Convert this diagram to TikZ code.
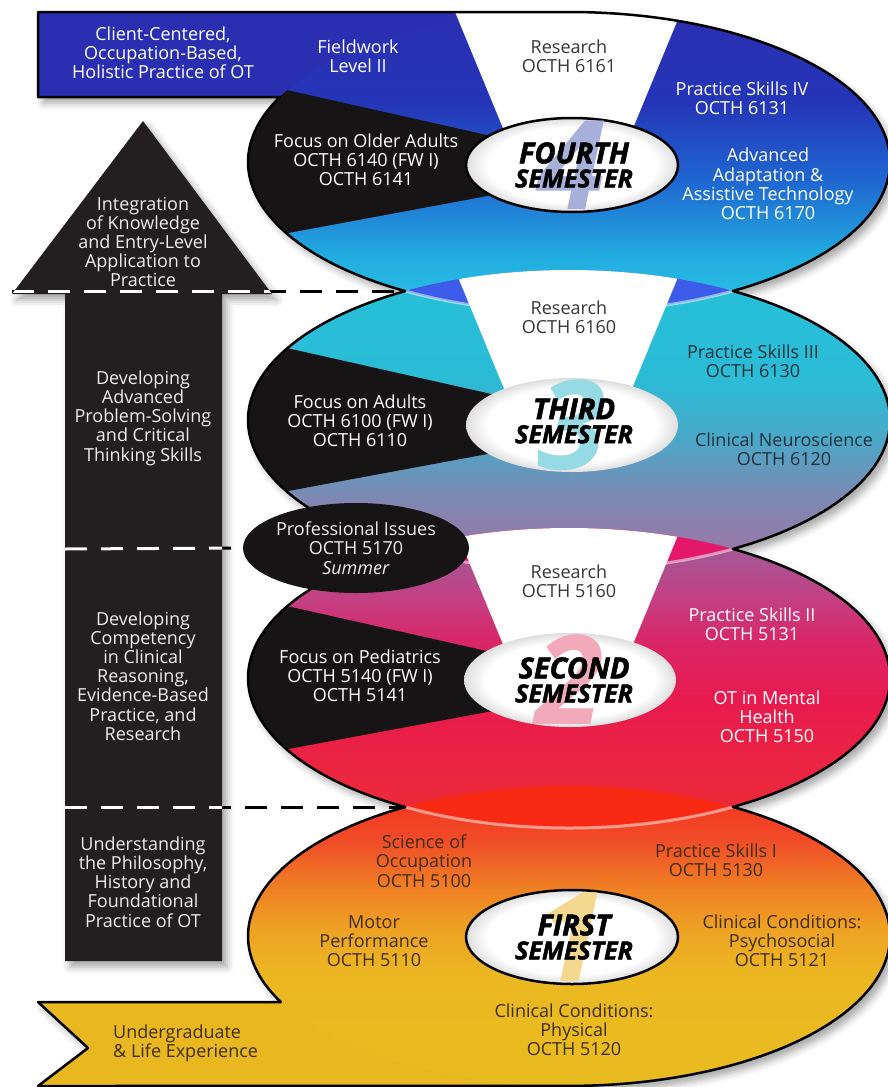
\documentclass[tikz,border=0pt]{standalone}
\usepackage{fontspec}
\setmainfont{Open Sans}
\usetikzlibrary{
    shapes.geometric,   % ellipse nodes for the hubs
    shadows.blur        % soft shadows under ribbon and arrow
}

% colours
\definecolor{bandblue}{HTML}{2A2FB2}
\definecolor{bandgold}{HTML}{E9B71F}
\definecolor{arrowgray}{HTML}{231F20}
\definecolor{pieblack}{HTML}{161415}
\definecolor{inkdark}{HTML}{363636}
\definecolor{inkslate}{HTML}{22313B}
\definecolor{inkbrown}{HTML}{3E2E0C}
\definecolor{lensblue}{HTML}{3C5BE8}
\definecolor{lensrose}{HTML}{E4186A}
\definecolor{lensred}{HTML}{F82A14}
\definecolor{digitfour}{HTML}{A6B0DA}
\definecolor{digitthree}{HTML}{96DAE4}
\definecolor{digittwo}{HTML}{F2AABA}
\definecolor{digitone}{HTML}{F4D890}

% semester shadings, the path covers 25bp..75bp
\pgfdeclareverticalshading{semfour}{100bp}{rgb(0bp)=(.173,.753,.894); rgb(25bp)=(.173,.753,.894);
    rgb(34bp)=(.133,.682,.878); rgb(47bp)=(.122,.4,.816); rgb(60bp)=(.145,.208,.722);
    rgb(75bp)=(.165,.184,.69); rgb(100bp)=(.165,.184,.69)}
\pgfdeclareverticalshading{semthree}{100bp}{rgb(0bp)=(.627,.439,.627); rgb(25bp)=(.627,.439,.627);
    rgb(29bp)=(.588,.478,.659); rgb(37bp)=(.49,.533,.698); rgb(47bp)=(.29,.659,.784);
    rgb(57bp)=(.169,.737,.839); rgb(75bp)=(.145,.749,.847); rgb(100bp)=(.145,.749,.847)}
\pgfdeclareverticalshading{semtwo}{100bp}{rgb(0bp)=(.933,.173,.22); rgb(25bp)=(.933,.173,.22);
    rgb(31bp)=(.925,.157,.235); rgb(46bp)=(.91,.102,.306); rgb(56bp)=(.851,.149,.4);
    rgb(63bp)=(.769,.247,.51); rgb(70bp)=(.663,.329,.58); rgb(75bp)=(.627,.353,.596);
    rgb(100bp)=(.627,.353,.596)}
\pgfdeclareverticalshading{semone}{100bp}{rgb(0bp)=(.91,.737,.125); rgb(25bp)=(.91,.737,.125);
    rgb(43bp)=(.922,.722,.133); rgb(51bp)=(.933,.639,.141); rgb(59bp)=(.941,.478,.141);
    rgb(66bp)=(.941,.298,.157); rgb(75bp)=(.957,.188,.125); rgb(100bp)=(.957,.188,.125)}
\pgfdeclareradialshading{hubglow}{\pgfpoint{0bp}{0bp}}{color(0bp)=(white); color(20bp)=(white);
    color(25bp)=(black!13); color(50bp)=(black!13)}

\newcommand{\rx}{321}
\newcommand{\ry}{150}
\newcommand{\lensang}{59.31}
\newcommand{\crsfont}{\fontsize{18}{19.2}\selectfont}
\newcommand{\semfont}{\fontsize{25}{25}\selectfont\bfseries\itshape\addfontfeatures{FakeBold=1.8}}
\newcommand{\digitfont}{\fontsize{124}{124}\selectfont\bfseries\itshape}

% outline of band + four semesters + band
\newcommand{\ribbonpath}{(38,12) -- (569,12)
    arc[start angle=-90, end angle=\lensang, x radius=\rx, y radius=\ry]
    arc[start angle=-\lensang, end angle=\lensang, x radius=\rx, y radius=\ry]
    arc[start angle=-\lensang, end angle=\lensang, x radius=\rx, y radius=\ry]
    arc[start angle=-\lensang, end angle=90, x radius=\rx, y radius=\ry]
    -- (38,1086) -- (88,1048) -- (38,1002) -- (280.8,1002)
    arc[start angle=153.9, end angle={180+\lensang}, x radius=\rx, y radius=\ry]
    arc[start angle={180-\lensang}, end angle={180+\lensang}, x radius=\rx, y radius=\ry]
    arc[start angle={180-\lensang}, end angle={180+\lensang}, x radius=\rx, y radius=\ry]
    arc[start angle={180-\lensang}, end angle=205.68, x radius=\rx, y radius=\ry]
    -- (38,97) -- cycle}
\newcommand{\stagearrow}{(12,294) -- (143,121) -- (272,294) -- (222,294)
    -- (222,961) -- (65,961) -- (65,294) -- cycle}

\tikzset{
    course/.style={align=center, font=\crsfont, text=white, inner sep=0pt},
    course dark/.style={course, text=inkdark},
    course slate/.style={course, text=inkslate},
    course brown/.style={course, text=inkbrown},
    stage/.style={course, text=black!7},
    semester/.style={align=center, font=\semfont, text=black, inner sep=0pt},
    big digit/.style={font=\digitfont, inner sep=0pt},
    hub/.style={ellipse, minimum width=212pt, minimum height=94pt, shading=hubglow},
    hub ring/.style={hub, draw=black, line width=2.5pt},
    prof oval/.style={ellipse, fill=pieblack, minimum width=226pt, minimum height=90pt},
    divider/.style={dash pattern=on 22pt off 14pt, line width=3pt},
    soft shadow/.style={blur shadow={shadow xshift=5pt, shadow yshift=-6pt,
        shadow blur radius=7pt, shadow opacity=35}}
}

\begin{document}
\begin{tikzpicture}[x=1pt, y=-1pt, line join=round]
    \useasboundingbox (0,0) rectangle (887,1087);

    % shadows first
    \fill[white, soft shadow] \ribbonpath;
    \fill[arrowgray, soft shadow] \stagearrow;

    % bands at both ends
    \fill[bandblue] (38,12) rectangle (569,97);
    \fill[bandgold] (38,1002) -- (569,1002) -- (569,1086) -- (38,1086) -- (88,1048) -- cycle;

    % fourth semester
    \shade[shading=semfour] (569,162) ellipse [x radius=\rx, y radius=\ry];
    \begin{scope}
        \clip (569,162) ellipse [x radius=\rx, y radius=\ry];
        \fill[pieblack] (229,77) -- (509,140) -- (509,192) -- (229,244) -- cycle;
    \end{scope}
    \begin{scope}
        \clip \ribbonpath;
        \fill[white] (453,7) -- (517,162) -- (619,162) -- (683,7) -- cycle;
    \end{scope}

    % third semester
    \shade[shading=semthree] (569,420) ellipse [x radius=\rx, y radius=\ry];
    \begin{scope}
        \clip (569,420) ellipse [x radius=\rx, y radius=\ry];
        \fill[lensblue] (569,162) ellipse [x radius=\rx, y radius=\ry];
        \fill[pieblack] (229,335) -- (509,398) -- (509,450) -- (229,502) -- cycle;
        \fill[white] (453,265) -- (517,420) -- (619,420) -- (683,265) -- cycle;
        \draw[white, opacity=.5, line width=3pt] (569,162) ellipse [x radius=\rx, y radius=\ry];
    \end{scope}

    % second semester
    \shade[shading=semtwo] (569,678) ellipse [x radius=\rx, y radius=\ry];
    \begin{scope}
        \clip (569,678) ellipse [x radius=\rx, y radius=\ry];
        \fill[lensrose] (569,420) ellipse [x radius=\rx, y radius=\ry];
        \fill[pieblack] (229,593) -- (509,656) -- (509,708) -- (229,760) -- cycle;
        \fill[white] (453,523) -- (517,678) -- (619,678) -- (683,523) -- cycle;
        \draw[white, opacity=.5, line width=3pt] (569,420) ellipse [x radius=\rx, y radius=\ry];
    \end{scope}

    % first semester
    \shade[shading=semone] (569,936) ellipse [x radius=\rx, y radius=\ry];
    \begin{scope}
        \clip (569,936) ellipse [x radius=\rx, y radius=\ry];
        \fill[lensred] (569,678) ellipse [x radius=\rx, y radius=\ry];
        \draw[white, opacity=.5, line width=3pt] (569,678) ellipse [x radius=\rx, y radius=\ry];
    \end{scope}

    % outline of the whole ribbon
    \draw[line width=2.5pt] \ribbonpath;

    % hubs with the semester names
    \node[hub ring] (hub4) at (572,165) {};
    \node[big digit, text=digitfour] (n4) at (hub4) {4};
    \node[semester] (sem4) at (574,165) {{\fontsize{29}{29}\selectfont FOURTH}\\[-1pt]SEMESTER};
    \node[hub] (hub3) at (572,425) {};
    \node[big digit, text=digitthree] (n3) at (hub3) {3};
    \node[semester] (sem3) at (574,421) {{\fontsize{29}{29}\selectfont THIRD}\\[-1pt]SEMESTER};
    \node[hub] (hub2) at (570,680) {};
    \node[big digit, text=digittwo] (n2) at (hub2) {2};
    \node[semester] (sem2) at (574,680) {{\fontsize{29}{29}\selectfont SECOND}\\[-1pt]SEMESTER};
    \node[hub ring] (hub1) at (572,937) {};
    \node[big digit, text=digitone] (n1) at (hub1) {1};
    \node[semester] (sem1) at (574,937) {{\fontsize{29}{29}\selectfont FIRST}\\[-1pt]SEMESTER};

    % summer course
    \node[prof oval] (prof) at (356,548) {};
    \node[stage] (profText) at (prof) {Professional Issues\\OCTH 5170\\\textit{Summer}};

    % dividers between the stages
    \coordinate (x43) at (405.1,291);
    \coordinate (x21) at (405.1,807);
    \coordinate (d1) at (12,291);
    \coordinate (d2) at (65,549);
    \coordinate (d3) at (65,807);
    \draw[divider] (d1) -- (x43);
    \draw[divider] (d2) -- (prof.west);
    \draw[divider] (d3) -- (x21);
    \begin{scope}
        \clip \stagearrow;
        \draw[divider, white] (d1) -- (x43);
        \draw[divider, white] (d2) -- (prof.west);
        \draw[divider, white] (d3) -- (x21);
    \end{scope}

    % stages on the arrow
    \node[stage] (integ) at (143,242) {Integration\\of Knowledge\\and Entry-Level\\Application to\\Practice};
    \node[stage] (probl) at (143,418) {Developing\\Advanced\\Problem-Solving\\and Critical\\Thinking Skills};
    \node[stage] (compt) at (143,676) {Developing\\Competency\\in Clinical\\Reasoning,\\Evidence-Based\\Practice, and\\Research};
    \node[stage] (found) at (143,882) {Understanding\\the Philosophy,\\History and\\Foundational\\Practice of OT};

    % blue band
    \node[course] (client) at (163,53) {Client-Centered,\\Occupation-Based,\\Holistic Practice of OT};
    \node[course] (fieldw) at (358,56) {Fieldwork\\Level II};

    % fourth semester courses
    \node[course dark] (res4) at (569,56) {Research\\OCTH 6161};
    \node[course] (ps4) at (742,98) {Practice Skills IV\\OCTH 6131};
    \node[course] (adapt) at (768,184) {Advanced\\Adaptation \&\\Assistive Technology\\OCTH 6170};
    \node[course] (older) at (366,160) {Focus on Older Adults\\OCTH 6140 (FW I)\\OCTH 6141};

    % third semester courses
    \node[course dark] (res3) at (569,317) {Research\\OCTH 6160};
    \node[course slate] (ps3) at (753,361) {Practice Skills III\\OCTH 6130};
    \node[course slate] (neuro) at (784,449) {Clinical Neuroscience\\OCTH 6120};
    \node[course] (adults) at (360,421) {Focus on Adults\\OCTH 6100 (FW I)\\OCTH 6110};

    % second semester courses
    \node[course dark] (res2) at (569,581) {Research\\OCTH 5160};
    \node[course] (ps2) at (752,624) {Practice Skills II\\OCTH 5131};
    \node[course] (mental) at (767,717) {OT in Mental\\Health\\OCTH 5150};
    \node[course] (peds) at (360,676) {Focus on Pediatrics\\OCTH 5140 (FW I)\\OCTH 5141};

    % first semester courses
    \node[course brown] (occup) at (424,861) {Science of\\Occupation\\OCTH 5100};
    \node[course brown] (ps1) at (716,860) {Practice Skills I\\OCTH 5130};
    \node[course brown] (motor) at (374,941) {Motor\\Performance\\OCTH 5110};
    \node[course brown] (psych) at (782,941) {Clinical Conditions:\\Psychosocial\\OCTH 5121};
    \node[course brown] (phys) at (574,1030) {Clinical Conditions:\\Physical\\OCTH 5120};

    % gold band
    \node[course brown, align=left, anchor=west] (ugrad) at (113,1043) {Undergraduate\\\& Life Experience};
\end{tikzpicture}
\end{document}
